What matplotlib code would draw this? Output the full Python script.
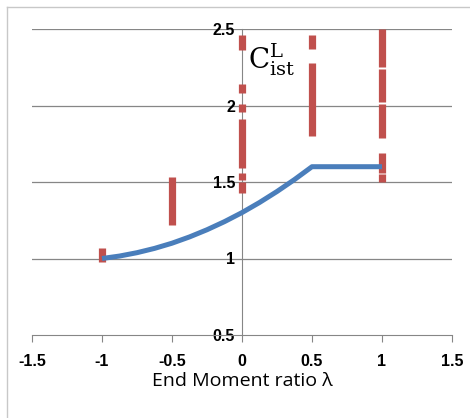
import matplotlib
matplotlib.use('Agg')
import matplotlib.pyplot as plt
from matplotlib.lines import Line2D

# blue design curve
lam = [-1.0, -0.875, -0.75, -0.625, -0.5, -0.375, -0.25, -0.125, 0.0, 0.125, 0.25, 0.375, 0.5, 1.0]
cist = [1.0, 1.016, 1.038, 1.066, 1.10, 1.141, 1.188, 1.241, 1.30, 1.366, 1.438, 1.516, 1.60, 1.60]

# red test ranges, drawn as vertical bars
bar_x = [-1, -0.5, 0, 0, 0, 0, 0, 0, 0.5, 0.5, 1, 1, 1, 1, 1]
bar_lo = [0.98, 1.22, 2.36, 2.08, 1.96, 1.59, 1.51, 1.43, 2.37, 1.80, 2.25, 2.02, 1.79, 1.56, 1.50]
bar_hi = [1.07, 1.53, 2.46, 2.14, 2.01, 1.91, 1.56, 1.50, 2.46, 2.28, 2.50, 2.24, 2.01, 1.69, 1.55]

xticks = [-1.5, -1, -0.5, 0, 0.5, 1, 1.5]
xticklabels = ['-1.5', '-1', '-0.5', '0', '0.5', '1', '1.5']
yticks = [0.5, 1, 1.5, 2, 2.5]
yticklabels = ['0.5', '1', '1.5', '2', '2.5']

plt.rcParams['mathtext.fontset'] = 'dejavuserif'

fig = plt.figure(figsize=(4.7, 4.18), dpi=100)
ax = fig.add_axes([32/470, 1 - 335/418, 420/470, 306/418])

for y in yticks[1:]:
    ax.axhline(y, color='#868686', lw=0.9, zorder=1)

ax.vlines(bar_x, bar_lo, bar_hi, color='#c0504d', lw=5.2, zorder=3)
ax.plot(lam, cist, color='#4a7ebb', lw=3.6, solid_capstyle='butt', zorder=4)

ax.set_xlim(-1.5, 1.5)
ax.set_ylim(0.5, 2.5)
ax.spines['left'].set_position(('data', 0))
ax.spines['right'].set_visible(False)
ax.spines['top'].set_visible(False)
ax.spines['left'].set_color('#868686')
ax.spines['bottom'].set_color('#868686')
ax.spines['left'].set_zorder(1)

ax.set_xticks(xticks)
ax.set_xticklabels(xticklabels, fontsize=11.5, fontweight='bold', family='Liberation Sans')
ax.set_yticks(yticks)
ax.set_yticklabels(yticklabels, fontsize=11.5, fontweight='bold', family='Liberation Sans')
ax.tick_params(axis='x', direction='out', length=5, color='#868686', pad=9)
ax.tick_params(axis='y', length=0, pad=5)

ax.set_xlabel('End Moment ratio λ', fontsize=14, family='Open Sans', labelpad=2)

ax.text(0.04, 2.3, r'$\mathregular{C}^{\mathregular{L}}_{\mathregular{ist}}$', fontsize=20,
        family='DejaVu Serif', va='center', ha='left')

fig.add_artist(Line2D([7/470, 7/470], [0, 1 - 7/418], color='#c8c8c8', lw=1))
fig.add_artist(Line2D([7/470, 1], [1 - 7/418, 1 - 7/418], color='#c8c8c8', lw=1))

fig.savefig('out.png', dpi=100)
